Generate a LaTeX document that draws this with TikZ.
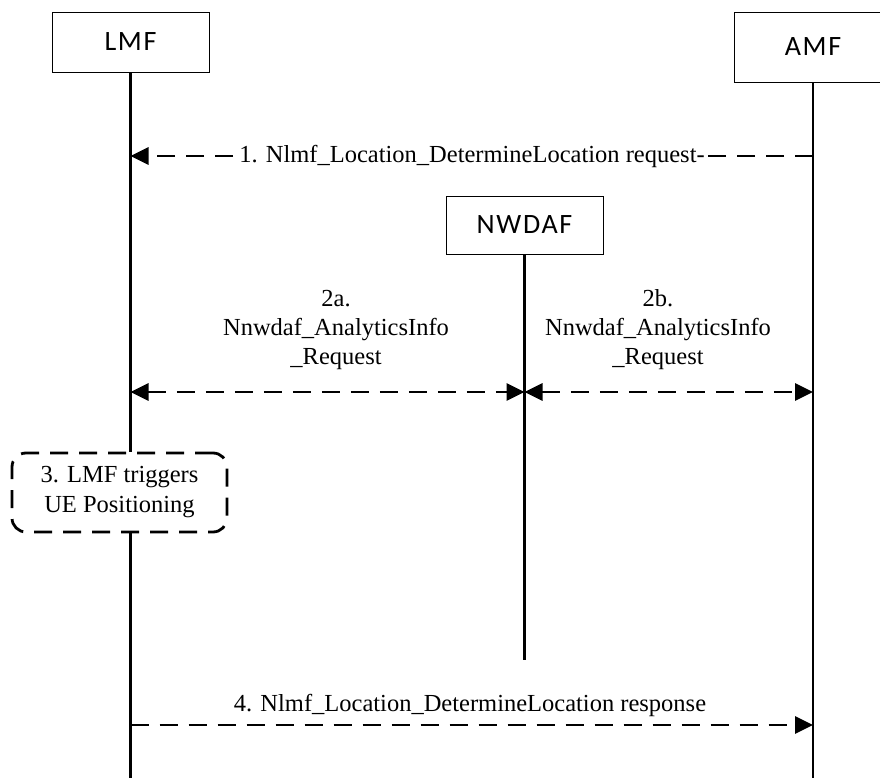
\documentclass[tikz,border=0pt]{standalone}
\usepackage{fontspec}
\setmainfont{Liberation Serif}
\newfontfamily\boxfont[LetterSpace=6]{Carlito}
\usetikzlibrary{arrows.meta,positioning}
\tikzset{mtip/.tip={Triangle[length=18pt,width=17pt]}}

\begin{document}
\begin{tikzpicture}[x=1pt,y=-1pt,
  nf/.style={draw,line width=0.9pt,font=\boxfont\fontsize{28}{32}\selectfont,inner sep=0pt},
  life/.style={line width=2.2pt},
  msg/.style={line width=2.8pt,dash pattern=on 18pt off 11pt},
  lbl/.style={font=\fontsize{24.5}{29}\selectfont,align=center}]
  \useasboundingbox (0,0) rectangle (880,778);
  % Entities
  \node[nf,minimum width=157pt,minimum height=60pt] (lmf) at (130.5,42) {LMF};
  \node[nf,minimum width=158pt,minimum height=70pt] (amf) at (813,47) {AMF};
  \node[nf,minimum width=157pt,minimum height=58pt] (nwdaf) at (524.5,225) {NWDAF};
  \node[lbl,draw,msg,rounded corners=14pt,minimum width=215pt,minimum height=79pt,
        font=\fontsize{24.5}{30}\selectfont] (pos) at (119.5,492.5) {3. LMF triggers\\UE Positioning};
  % Lifelines
  \coordinate (lmfEnd) at (lmf.south |- 0,778);
  \coordinate (amfEnd) at (amf.south |- 0,778);
  \coordinate (nwdafEnd) at (nwdaf.south |- 0,660);
  \draw[life] (lmf.south) -- (lmf.south |- pos.north);
  \draw[life] (lmf.south |- pos.south) -- (lmfEnd);
  \foreach \e in {amf,nwdaf} \draw[life] (\e.south) -- (\e End);
  % Messages
  \coordinate (m1l) at (lmf.south |- 0,156);
  \coordinate (m1a) at (amf.south |- 0,156);
  \coordinate (m2l) at (lmf.south |- 0,392);
  \coordinate (m2n) at (nwdaf.south |- 0,392);
  \coordinate (m2a) at (amf.south |- 0,392);
  \coordinate (m4l) at (lmf.south |- 0,725);
  \coordinate (m4a) at (amf.south |- 0,725);
  \draw[msg,-{mtip}] (m1a) -- (m1l);
  \draw[msg,{mtip}-{mtip}] (m2l) -- (m2n);
  \draw[msg,{mtip}-{mtip}] (m2n) -- (m2a);
  \draw[msg,-{mtip}] (m4l) -- (m4a);
  % Labels
  \node[lbl,fill=white,inner xsep=3pt,inner ysep=1pt] (l1) at (472,156) {1. Nlmf\_Location\_DetermineLocation request-};
  \node[lbl] (l2a) at (336,330) {2a.\\Nnwdaf\_AnalyticsInfo\\\_Request};
  \node[lbl] (l2b) at (658,330) {2b.\\Nnwdaf\_AnalyticsInfo\\\_Request};
  \node[lbl] (l4) at (470,705) {4. Nlmf\_Location\_DetermineLocation response};
\end{tikzpicture}
\end{document}
